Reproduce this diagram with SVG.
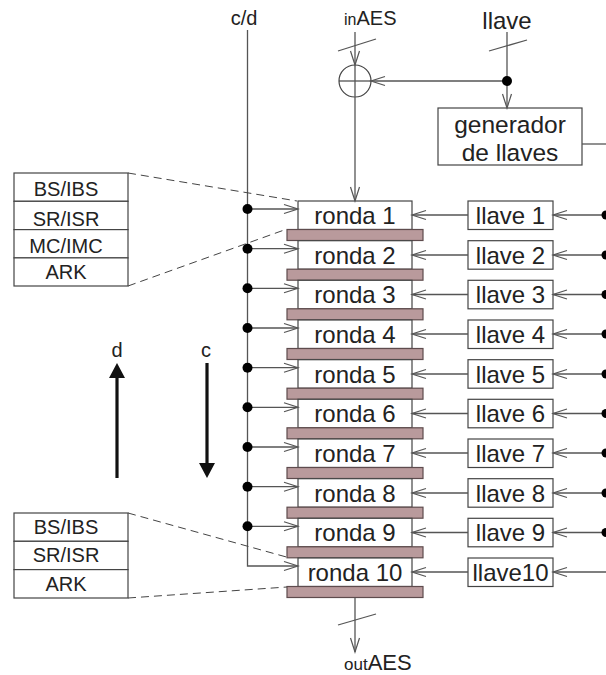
<svg xmlns="http://www.w3.org/2000/svg" width="606" height="675" viewBox="0 0 606 675">
<defs>
<style>
text{font-family:"Liberation Sans",Arial,Helvetica,sans-serif;fill:#222}
.box{fill:#fff;stroke:#444;stroke-width:1.2}
.bar{fill:#b99a9c;stroke:#5e4b4d;stroke-width:1.2}
.ln{fill:none;stroke:#555;stroke-width:1.3}
.ar{fill:none;stroke:#555;stroke-width:1.3;marker-end:url(#oa)}
.dash{fill:none;stroke:#444;stroke-width:1;stroke-dasharray:8 5}
.big{font-size:24px;text-anchor:middle}
.gen{font-size:24.5px;text-anchor:middle}
.sm{font-size:20px;text-anchor:middle}
.dot{fill:#000}
.thick{stroke:#111;stroke-width:3.2;fill:none}
</style>
<marker id="oa" markerUnits="userSpaceOnUse" markerWidth="16" markerHeight="10" refX="14" refY="4.5" orient="auto" overflow="visible">
<path d="M0,0 L14,4.5 L0,9" fill="none" stroke="#555" stroke-width="1.2"/>
</marker>
</defs>

<!-- top labels -->
<g id="label-cd"><text x="244" y="25" font-size="20" text-anchor="middle">c/d</text></g>
<g id="label-inAES"><text x="344" y="25"><tspan font-size="16">in</tspan><tspan font-size="20">AES</tspan></text></g>
<g id="label-llave"><text x="507" y="29" font-size="24" text-anchor="middle">llave</text></g>

<!-- XOR -->
<g id="xor">
<circle cx="355" cy="81" r="16" fill="none" stroke="#444" stroke-width="1.2"/>
<line x1="339" y1="81" x2="371" y2="81" stroke="#444" stroke-width="1.2"/>
</g>

<!-- generator -->
<g id="generador">
<rect class="box" x="438" y="108" width="144" height="57"/>
<text class="gen" x="510" y="133">generador</text>
<text class="gen" x="510" y="161">de llaves</text>
</g>

<!-- side boxes -->
<g id="detalle-ronda">
<rect class="box" x="14" y="173" width="114" height="28.3"/>
<rect class="box" x="14" y="201.3" width="114" height="28.3"/>
<rect class="box" x="14" y="229.6" width="114" height="28.3"/>
<rect class="box" x="14" y="257.9" width="114" height="28.1"/>
<text class="sm" x="66" y="196">BS/IBS</text>
<text class="sm" x="66" y="226">SR/ISR</text>
<text class="sm" x="66" y="253">MC/IMC</text>
<text class="sm" x="66" y="279">ARK</text>
</g>
<g id="detalle-ronda10">
<rect class="box" x="14" y="513" width="114" height="28.3"/>
<rect class="box" x="14" y="541.3" width="114" height="28.3"/>
<rect class="box" x="14" y="569.6" width="114" height="28.4"/>
<text class="sm" x="66" y="534">BS/IBS</text>
<text class="sm" x="66" y="562">SR/ISR</text>
<text class="sm" x="66" y="591">ARK</text>
</g>

<!-- direction arrows -->
<g id="dir-d">
<text x="117" y="357" font-size="20" text-anchor="middle">d</text>
<line class="thick" x1="117" y1="478" x2="117" y2="376"/>
<path d="M117,363 L109,378 L125,378 Z" fill="#111"/>
</g>
<g id="dir-c">
<text x="206" y="357" font-size="20" text-anchor="middle">c</text>
<line class="thick" x1="207" y1="363" x2="207" y2="465"/>
<path d="M207,478 L199,463 L215,463 Z" fill="#111"/>
</g>

<!-- rounds -->
<g id="ronda1"><rect class="box" x="298" y="201" width="114" height="28.5"/><rect class="bar" x="287" y="229.5" width="136" height="11"/><text class="big" x="355" y="224">ronda 1</text></g>
<g id="ronda2"><rect class="box" x="298" y="240.7" width="114" height="28.5"/><rect class="bar" x="287" y="269.2" width="136" height="11"/><text class="big" x="355" y="263.7">ronda 2</text></g>
<g id="ronda3"><rect class="box" x="298" y="280.3" width="114" height="28.5"/><rect class="bar" x="287" y="308.8" width="136" height="11"/><text class="big" x="355" y="303.3">ronda 3</text></g>
<g id="ronda4"><rect class="box" x="298" y="320" width="114" height="28.5"/><rect class="bar" x="287" y="348.5" width="136" height="11"/><text class="big" x="355" y="343">ronda 4</text></g>
<g id="ronda5"><rect class="box" x="298" y="359.7" width="114" height="28.5"/><rect class="bar" x="287" y="388.2" width="136" height="11"/><text class="big" x="355" y="382.7">ronda 5</text></g>
<g id="ronda6"><rect class="box" x="298" y="399.3" width="114" height="28.5"/><rect class="bar" x="287" y="427.8" width="136" height="11"/><text class="big" x="355" y="422.3">ronda 6</text></g>
<g id="ronda7"><rect class="box" x="298" y="439" width="114" height="28.5"/><rect class="bar" x="287" y="467.5" width="136" height="11"/><text class="big" x="355" y="462">ronda 7</text></g>
<g id="ronda8"><rect class="box" x="298" y="478.7" width="114" height="28.5"/><rect class="bar" x="287" y="507.2" width="136" height="11"/><text class="big" x="355" y="501.7">ronda 8</text></g>
<g id="ronda9"><rect class="box" x="298" y="518.3" width="114" height="28.5"/><rect class="bar" x="287" y="546.8" width="136" height="11"/><text class="big" x="355" y="541.3">ronda 9</text></g>
<g id="ronda10"><rect class="box" x="298" y="558" width="114" height="28.5"/><rect class="bar" x="287" y="586.5" width="136" height="11"/><text class="big" x="355" y="581">ronda 10</text></g>

<!-- round keys -->
<g id="llave1"><rect class="box" x="468" y="201" width="85" height="28.5"/><text class="big" x="510.5" y="224">llave 1</text></g>
<g id="llave2"><rect class="box" x="468" y="240.7" width="85" height="28.5"/><text class="big" x="510.5" y="263.7">llave 2</text></g>
<g id="llave3"><rect class="box" x="468" y="280.3" width="85" height="28.5"/><text class="big" x="510.5" y="303.3">llave 3</text></g>
<g id="llave4"><rect class="box" x="468" y="320" width="85" height="28.5"/><text class="big" x="510.5" y="343">llave 4</text></g>
<g id="llave5"><rect class="box" x="468" y="359.7" width="85" height="28.5"/><text class="big" x="510.5" y="382.7">llave 5</text></g>
<g id="llave6"><rect class="box" x="468" y="399.3" width="85" height="28.5"/><text class="big" x="510.5" y="422.3">llave 6</text></g>
<g id="llave7"><rect class="box" x="468" y="439" width="85" height="28.5"/><text class="big" x="510.5" y="462">llave 7</text></g>
<g id="llave8"><rect class="box" x="468" y="478.7" width="85" height="28.5"/><text class="big" x="510.5" y="501.7">llave 8</text></g>
<g id="llave9"><rect class="box" x="468" y="518.3" width="85" height="28.5"/><text class="big" x="510.5" y="541.3">llave 9</text></g>
<g id="llave10"><rect class="box" x="468" y="558" width="85" height="28.5"/><text class="big" x="510.5" y="581">llave10</text></g>

<g id="label-outAES"><text x="344" y="670"><tspan font-size="17">out</tspan><tspan font-size="22">AES</tspan></text></g>

<!-- connectors -->
<g id="connectors">
<!-- inAES -->
<line class="ar" x1="355" y1="32" x2="355" y2="65"/>
<line class="ln" x1="338" y1="51" x2="376" y2="39"/>
<line class="ar" x1="355" y1="65" x2="355" y2="201"/>
<!-- llave -->
<line class="ar" x1="507" y1="32" x2="507" y2="108"/>
<line class="ln" x1="489" y1="51" x2="527" y2="40"/>
<line class="ar" x1="507" y1="81" x2="371" y2="81"/>
<circle class="dot" cx="507" cy="81" r="5"/>
<!-- generator out -->
<line class="ln" x1="582" y1="144" x2="606" y2="144"/>
<!-- c/d bus -->
<polyline class="ar" points="247.5,30 247.5,566 298,566"/>
<line class="ar" x1="247.5" y1="209" x2="298" y2="209"/>
<line class="ar" x1="247.5" y1="248.7" x2="298" y2="248.7"/>
<line class="ar" x1="247.5" y1="288.3" x2="298" y2="288.3"/>
<line class="ar" x1="247.5" y1="328" x2="298" y2="328"/>
<line class="ar" x1="247.5" y1="367.7" x2="298" y2="367.7"/>
<line class="ar" x1="247.5" y1="407.3" x2="298" y2="407.3"/>
<line class="ar" x1="247.5" y1="447" x2="298" y2="447"/>
<line class="ar" x1="247.5" y1="486.7" x2="298" y2="486.7"/>
<line class="ar" x1="247.5" y1="526.3" x2="298" y2="526.3"/>
<circle class="dot" cx="247.5" cy="209" r="5"/>
<circle class="dot" cx="247.5" cy="248.7" r="5"/>
<circle class="dot" cx="247.5" cy="288.3" r="5"/>
<circle class="dot" cx="247.5" cy="328" r="5"/>
<circle class="dot" cx="247.5" cy="367.7" r="5"/>
<circle class="dot" cx="247.5" cy="407.3" r="5"/>
<circle class="dot" cx="247.5" cy="447" r="5"/>
<circle class="dot" cx="247.5" cy="486.7" r="5"/>
<circle class="dot" cx="247.5" cy="526.3" r="5"/>
<!-- llave n to ronda n -->
<line class="ar" x1="468" y1="215" x2="412" y2="215"/>
<line class="ar" x1="468" y1="255" x2="412" y2="255"/>
<line class="ar" x1="468" y1="294.5" x2="412" y2="294.5"/>
<line class="ar" x1="468" y1="334" x2="412" y2="334"/>
<line class="ar" x1="468" y1="374" x2="412" y2="374"/>
<line class="ar" x1="468" y1="413.5" x2="412" y2="413.5"/>
<line class="ar" x1="468" y1="453" x2="412" y2="453"/>
<line class="ar" x1="468" y1="493" x2="412" y2="493"/>
<line class="ar" x1="468" y1="532.5" x2="412" y2="532.5"/>
<line class="ar" x1="468" y1="572" x2="412" y2="572"/>
<!-- generator bus to llave n -->
<line class="ar" x1="606" y1="215" x2="553" y2="215"/>
<line class="ar" x1="606" y1="255" x2="553" y2="255"/>
<line class="ar" x1="606" y1="294.5" x2="553" y2="294.5"/>
<line class="ar" x1="606" y1="334" x2="553" y2="334"/>
<line class="ar" x1="606" y1="374" x2="553" y2="374"/>
<line class="ar" x1="606" y1="413.5" x2="553" y2="413.5"/>
<line class="ar" x1="606" y1="453" x2="553" y2="453"/>
<line class="ar" x1="606" y1="493" x2="553" y2="493"/>
<line class="ar" x1="606" y1="532.5" x2="553" y2="532.5"/>
<line class="ar" x1="606" y1="572" x2="553" y2="572"/>
<circle class="dot" cx="606" cy="215" r="4.5"/>
<circle class="dot" cx="606" cy="255" r="4.5"/>
<circle class="dot" cx="606" cy="294.5" r="4.5"/>
<circle class="dot" cx="606" cy="334" r="4.5"/>
<circle class="dot" cx="606" cy="374" r="4.5"/>
<circle class="dot" cx="606" cy="413.5" r="4.5"/>
<circle class="dot" cx="606" cy="453" r="4.5"/>
<circle class="dot" cx="606" cy="493" r="4.5"/>
<circle class="dot" cx="606" cy="532.5" r="4.5"/>
<!-- output -->
<line class="ar" x1="355" y1="597.5" x2="355" y2="652"/>
<line class="ln" x1="338" y1="625" x2="376" y2="614"/>
<!-- dashed detail lines -->
<line class="dash" x1="128" y1="173" x2="297" y2="201"/>
<line class="dash" x1="128" y1="286" x2="287" y2="229"/>
<line class="dash" x1="128" y1="513" x2="290" y2="558"/>
<line class="dash" x1="128" y1="598" x2="287" y2="587"/>
</g>
</svg>
